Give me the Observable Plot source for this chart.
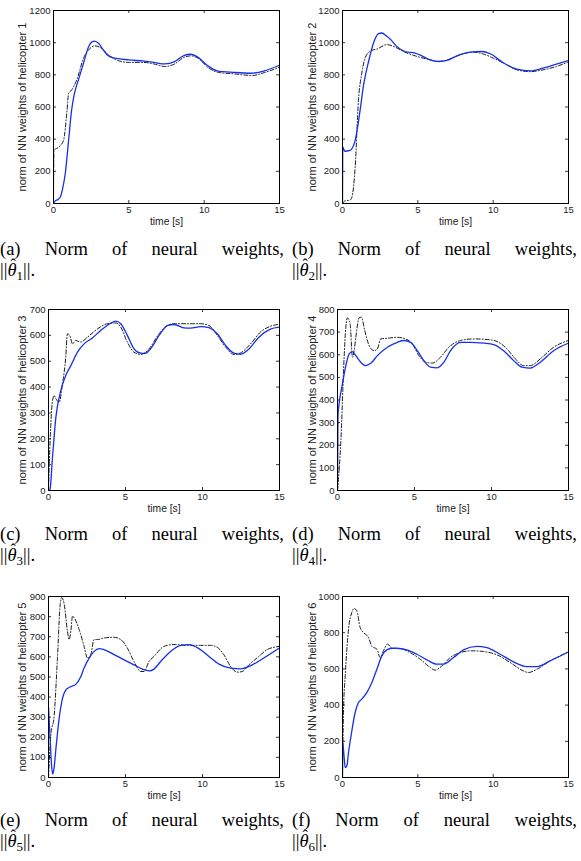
<!DOCTYPE html>
<html>
<head>
<meta charset="utf-8">
<script src="https://cdn.jsdelivr.net/npm/d3@7"></script>
<script src="https://cdn.jsdelivr.net/npm/@observablehq/plot@0.6"></script>
<style>
  html, body { margin: 0; padding: 0; background: #fff; }
  #root { position: relative; width: 581px; height: 861px; overflow: hidden; background: #fff; }
  .panel { position: absolute; }
  .panel svg { display: block; }
  .cap { position: absolute; font-family: "Liberation Serif", "Times New Roman", serif; font-size: 18.5px; line-height: 21px; color: #000; }
  .l1 { display: flex; justify-content: space-between; white-space: nowrap; }
  .l2 { white-space: nowrap; }
  .th { font-style: italic; position: relative; }
  .th::after { content: "\02C6"; position: absolute; left: 3px; top: -3px; font-style: normal; font-size: 16px; line-height: 16px; }
  .sub { font-size: 13px; position: relative; top: 4px; }
</style>
</head>
<body>
<div id="root"></div>
<script>
// ---------- data: [time (s), norm of NN weights] ----------
const heli1Blue = [[0,0],[0.1,15],[0.3,25],[0.45,40],[0.6,90],[0.78,185],[1.0,390],[1.2,580],[1.37,675],[1.66,770],[2.0,875],[2.33,975],[2.55,1005],[2.73,1010],[3.0,995],[3.3,955],[3.55,925],[4.0,905],[5.0,893],[6.0,885],[6.65,877],[7.4,868],[8.0,880],[8.65,920],[9.1,928],[9.5,915],[10.2,860],[10.85,825],[12,815],[13.1,810],[14,825],[15,860]];
const heli1Black = [[0,0],[0.03,330],[0.33,350],[0.66,390],[0.9,580],[1.0,685],[1.2,705],[1.55,770],[2.0,905],[2.33,955],[2.77,980],[3.1,970],[3.65,925],[4.1,895],[5,877],[6,877],[6.65,868],[7.4,852],[8,866],[8.65,908],[9.1,918],[9.6,903],[10.3,842],[10.95,815],[12,806],[13.2,796],[14,814],[15,848]];

const heli2Blue = [[0,0],[0.02,350],[0.15,325],[0.5,330],[0.84,392],[1.17,580],[1.4,737],[1.73,883],[2.06,998],[2.39,1056],[2.6,1060],[2.94,1040],[3.16,1023],[3.6,977],[4.16,945],[4.82,935],[5.27,918],[5.82,893],[6.37,883],[6.93,890],[7.6,918],[8.47,941],[9.25,945],[9.8,931],[10.7,873],[11.57,835],[12.46,825],[13.3,841],[14.2,866],[15,889]];
const heli2Black = [[0,0],[0.18,17],[0.5,21],[0.62,38],[0.84,225],[1.06,643],[1.28,810],[1.6,925],[1.95,952],[2.28,960],[2.94,988],[3.38,977],[4.16,940],[4.82,918],[5.6,898],[6.37,883],[7.03,894],[7.8,925],[8.7,941],[9.36,929],[10.0,904],[10.7,873],[11.57,831],[12.46,820],[13.3,831],[14.2,852],[15,881]];

const heli3Blue = [[0,0],[0.1,6],[0.26,129],[0.48,284],[0.8,387],[1.12,445],[1.45,483],[1.88,535],[2.31,567],[2.85,590],[3.39,619],[4.04,647],[4.37,655],[4.69,645],[5.12,600],[5.55,548],[5.99,531],[6.25,530],[6.63,548],[7.18,600],[7.72,638],[8.15,642],[8.8,629],[9.23,628],[9.88,634],[10.42,630],[10.96,606],[11.5,561],[12.04,531],[12.47,527],[13.0,546],[13.66,593],[14.41,624],[15,632]];
const heli3Black = [[0,0],[0.09,168],[0.26,348],[0.37,367],[0.48,355],[0.69,341],[0.91,413],[1.12,516],[1.23,606],[1.38,600],[1.56,567],[1.77,580],[2.1,574],[2.53,593],[3.18,625],[3.82,645],[4.37,648],[4.69,632],[5.12,574],[5.55,535],[5.99,526],[6.53,548],[7.18,606],[7.72,638],[8.15,645],[9.0,645],[9.88,645],[10.42,638],[10.96,600],[11.5,555],[12.04,526],[12.47,532],[13.12,567],[13.77,613],[14.41,635],[15,643]];

const heli4Blue = [[0,0],[0.03,330],[0.1,380],[0.32,471],[0.54,552],[0.76,604],[0.97,614],[1.19,596],[1.51,567],[1.83,552],[2.16,562],[2.59,596],[3.24,633],[3.88,655],[4.32,663],[4.75,655],[5.18,618],[5.61,574],[6.04,545],[6.47,542],[6.91,567],[7.34,618],[7.99,655],[8.63,655],[9.5,651],[10.14,645],[10.79,618],[11.44,574],[11.98,545],[12.52,541],[13.17,567],[14.03,618],[15,651]];
const heli4Black = [[0,0],[0.22,221],[0.43,589],[0.54,722],[0.65,763],[0.82,736],[0.97,589],[1.08,618],[1.19,677],[1.4,763],[1.55,766],[1.77,707],[2.05,641],[2.37,618],[2.59,626],[2.81,670],[3.24,673],[3.88,677],[4.42,670],[4.86,648],[5.29,596],[5.72,567],[6.15,563],[6.69,589],[7.23,633],[7.99,663],[8.85,670],[9.93,666],[10.47,655],[11.0,626],[11.55,582],[12.09,552],[12.52,552],[13.17,582],[14.03,633],[15,663]];

const heli5Blue = [[0,351],[0.1,200],[0.2,60],[0.27,17],[0.35,40],[0.48,142],[0.69,293],[0.91,393],[1.12,435],[1.45,452],[1.77,463],[2.1,502],[2.31,544],[2.64,594],[2.96,627],[3.28,641],[3.61,636],[4.26,611],[4.91,585],[5.55,560],[6.1,539],[6.53,530],[6.85,539],[7.28,577],[7.93,627],[8.58,657],[9.12,661],[9.77,641],[10.42,602],[11.07,564],[11.82,544],[12.47,540],[13.23,560],[13.98,594],[15,644]];
const heli5Black = [[0,0],[0.15,209],[0.37,309],[0.58,594],[0.76,861],[0.86,895],[1.02,861],[1.23,728],[1.34,686],[1.45,728],[1.56,803],[1.66,795],[1.99,736],[2.31,652],[2.53,594],[2.74,610],[2.96,686],[3.18,686],[3.61,694],[4.26,697],[4.69,686],[5.12,644],[5.55,577],[5.99,527],[6.2,527],[6.53,577],[6.85,602],[7.5,652],[8.15,661],[9.01,657],[9.88,657],[10.53,657],[10.96,647],[11.39,610],[11.82,552],[12.25,524],[12.58,527],[13.01,560],[13.66,602],[14.2,636],[15,652]];

const heli6Blue = [[0,0],[0.01,200],[0.1,120],[0.18,55],[0.29,64],[0.4,138],[0.62,258],[0.84,359],[1.06,414],[1.28,433],[1.62,470],[1.95,525],[2.28,598],[2.61,672],[2.94,705],[3.27,714],[3.6,714],[4.27,705],[4.93,681],[5.6,650],[6.26,626],[6.7,626],[7.37,663],[8.03,705],[8.92,724],[9.58,718],[10.46,681],[11.35,639],[12.23,613],[12.9,613],[13.78,644],[15,694]];
const heli6Black = [[0,0],[0.07,377],[0.18,562],[0.4,820],[0.62,912],[0.77,934],[0.95,921],[1.17,829],[1.39,801],[1.73,773],[1.95,724],[2.28,709],[2.5,663],[2.72,700],[2.99,737],[3.27,714],[3.83,712],[4.49,690],[5.15,654],[5.82,608],[6.15,593],[6.48,608],[7.15,663],[7.81,690],[8.58,700],[9.36,696],[10.24,678],[11.13,635],[12.01,589],[12.35,580],[12.9,598],[13.78,644],[15,694]];

// ---------- tick labels ----------
const xTicks = [0, 5, 10, 15];
const yTicks1 = [0, 200, 400, 600, 800, 1000, 1200];
const yTicks2 = [0, 200, 400, 600, 800, 1000, 1200];
const yTicks3 = [0, 100, 200, 300, 400, 500, 600, 700];
const yTicks4 = [0, 100, 200, 300, 400, 500, 600, 700, 800];
const yTicks5 = [0, 100, 200, 300, 400, 500, 600, 700, 800, 900];
const yTicks6 = [0, 200, 400, 600, 800, 1000];

const captionLetters = ["a", "b", "c", "d", "e", "f"];
const captionWords = ["Norm", "of", "neural", "weights,"];
const xLabel = "time [s]";
const yLabelPrefix = "norm of NN weights of helicopter ";

// ---------- layout ----------
const panels = [
  {i: 1, blue: heli1Blue, black: heli1Black, yt: yTicks1, left: 0,   top: 0,   w: 290, h: 230, ml: 53, mr: 11, mt: 10, mb: 27},
  {i: 2, blue: heli2Blue, black: heli2Black, yt: yTicks2, left: 290, top: 0,   w: 291, h: 230, ml: 52, mr: 13, mt: 10, mb: 27},
  {i: 3, blue: heli3Blue, black: heli3Black, yt: yTicks3, left: 0,   top: 290, w: 290, h: 228, ml: 48, mr: 11, mt: 19, mb: 28},
  {i: 4, blue: heli4Blue, black: heli4Black, yt: yTicks4, left: 290, top: 290, w: 291, h: 228, ml: 47, mr: 13, mt: 19, mb: 28},
  {i: 5, blue: heli5Blue, black: heli5Black, yt: yTicks5, left: 0,   top: 575, w: 290, h: 230, ml: 48, mr: 11, mt: 21, mb: 28},
  {i: 6, blue: heli6Blue, black: heli6Black, yt: yTicks6, left: 290, top: 575, w: 291, h: 230, ml: 52, mr: 13, mt: 21, mb: 28}
];

const captionTops = [238.5, 523.5, 809.5];

const root = document.getElementById("root");

function makePanel(p) {
  const pw = p.w - p.ml - p.mr;
  const ph = p.h - p.mt - p.mb;
  const ymax = p.yt[p.yt.length - 1];
  const X = d => d[0], Y = d => d[1];
  return Plot.plot({
    width: p.w, height: p.h,
    marginLeft: p.ml, marginRight: p.mr, marginTop: p.mt, marginBottom: p.mb,
    style: {fontFamily: "'Liberation Sans', Arial, Helvetica, sans-serif", fontSize: "9.5px", color: "#222", background: "#fff", overflow: "visible"},
    x: {domain: [0, 15]},
    y: {domain: [0, ymax]},
    marks: [
      Plot.line(p.black, {x: X, y: Y, stroke: "#000", strokeWidth: 0.9, strokeDasharray: "4,2,1,2", curve: "monotone-x", clip: true}),
      Plot.line(p.blue, {x: X, y: Y, stroke: "#1530e8", strokeWidth: 1.3, curve: "monotone-x", clip: true}),
      Plot.tickY(p.yt, {y: d => d, insetRight: pw - 3, stroke: "#000", strokeWidth: 0.8}),
      Plot.tickY(p.yt, {y: d => d, insetLeft: pw - 3, stroke: "#000", strokeWidth: 0.8}),
      Plot.tickX(xTicks, {x: d => d, insetTop: ph - 3, stroke: "#000", strokeWidth: 0.8}),
      Plot.tickX(xTicks, {x: d => d, insetBottom: ph - 3, stroke: "#000", strokeWidth: 0.8}),
      Plot.frame({stroke: "#000", strokeWidth: 1}),
      Plot.axisY({ticks: p.yt, tickSize: 0, tickPadding: 3, tickFormat: d => String(d), label: null}),
      Plot.axisY({ticks: [], tickSize: 0, label: yLabelPrefix + p.i, labelAnchor: "center", labelArrow: "none", labelOffset: p.ml - 18, fontSize: 11}),
      Plot.axisX({ticks: xTicks, tickSize: 0, tickPadding: 3, tickFormat: d => String(d), label: null}),
      Plot.axisX({ticks: [], tickSize: 0, label: xLabel, labelAnchor: "center", labelArrow: "none", labelOffset: 21, fontSize: 10.3})
    ]
  });
}

panels.forEach(p => {
  const div = document.createElement("div");
  div.className = "panel";
  div.style.left = p.left + "px";
  div.style.top = p.top + "px";
  div.appendChild(makePanel(p));
  root.appendChild(div);
});

// captions
captionLetters.forEach((c, k) => {
  const col = k % 2, row = Math.floor(k / 2);
  const div = document.createElement("div");
  div.className = "cap";
  div.style.left = (col === 0 ? 0 : 292) + "px";
  div.style.width = (col === 0 ? 284 : 285) + "px";
  div.style.top = captionTops[row] + "px";
  const l1 = document.createElement("div");
  l1.className = "l1";
  ["(" + c + ")", ...captionWords].forEach(w => {
    const s = document.createElement("span");
    s.textContent = w;
    l1.appendChild(s);
  });
  const l2 = document.createElement("div");
  l2.className = "l2";
  l2.innerHTML = '||<span class="th">\u03B8</span><span class="sub">' + (k + 1) + '</span>||.';
  div.appendChild(l1);
  div.appendChild(l2);
  root.appendChild(div);
});
</script>
</body>
</html>
